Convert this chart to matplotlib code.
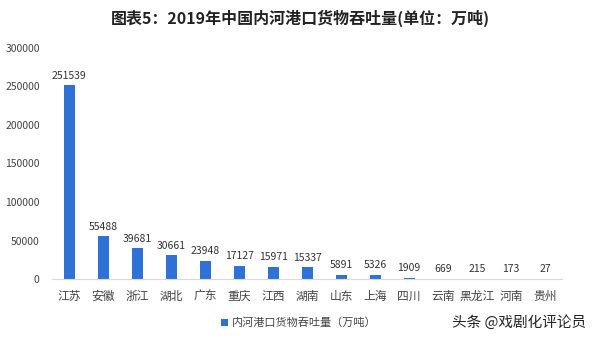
import matplotlib
matplotlib.use('Agg')
import matplotlib.pyplot as plt

plt.rcParams['font.family'] = ['Noto Sans CJK SC', 'DejaVu Sans']

provinces = ["江苏", "安徽", "浙江", "湖北", "广东", "重庆", "江西", "湖南",
             "山东", "上海", "四川", "云南", "黑龙江", "河南", "贵州"]
throughput = [251539, 55488, 39681, 30661, 23948, 17127, 15971, 15337,
              5891, 5326, 1909, 669, 215, 173, 27]
yticks = [0, 50000, 100000, 150000, 200000, 250000, 300000]

fig = plt.figure(figsize=(6, 3.42), dpi=100)
ax = fig.add_axes([0.087, 0.184, 0.85, 0.676])

x = list(range(len(provinces)))
bars = ax.bar(x, throughput, width=0.32, color="#2f72d6",
              label="内河港口货物吞吐量（万吨）")
for xi, v in zip(x, throughput):
    ax.text(xi, v + 6000, str(v), ha="center", va="bottom",
            fontsize=7.5, color="#333333")

ax.set_xlim(-0.5, len(provinces) - 0.5)
ax.set_ylim(0, 300000)
ax.set_yticks(yticks)
ax.set_yticklabels([str(t) for t in yticks], fontsize=7.5, color="#444444")
ax.set_xticks(x)
ax.set_xticklabels(provinces, fontsize=8.5, color="#444444")
ax.tick_params(axis="y", length=0, pad=9)
ax.tick_params(axis="x", length=0, pad=8)
for s in ["top", "right", "left"]:
    ax.spines[s].set_visible(False)
ax.spines["bottom"].set_color("#d9d9d9")

fig.text(0.5, 0.947, "图表5：2019年中国内河港口货物吞吐量(单位：万吨)",
         ha="center", va="center", fontsize=11.5, fontweight="bold", color="#222222")
fig.legend(loc="center", bbox_to_anchor=(0.498, 0.056), frameon=False,
           fontsize=8, handlelength=0.6, handleheight=0.6, handletextpad=0.3,
           labelcolor="#444444")
fig.text(0.865, 0.056, "头条 @戏剧化评论员", ha="center", va="center",
         fontsize=10.5, color="#222222")

fig.savefig("out.png", dpi=100, facecolor="white")
plt.close()
